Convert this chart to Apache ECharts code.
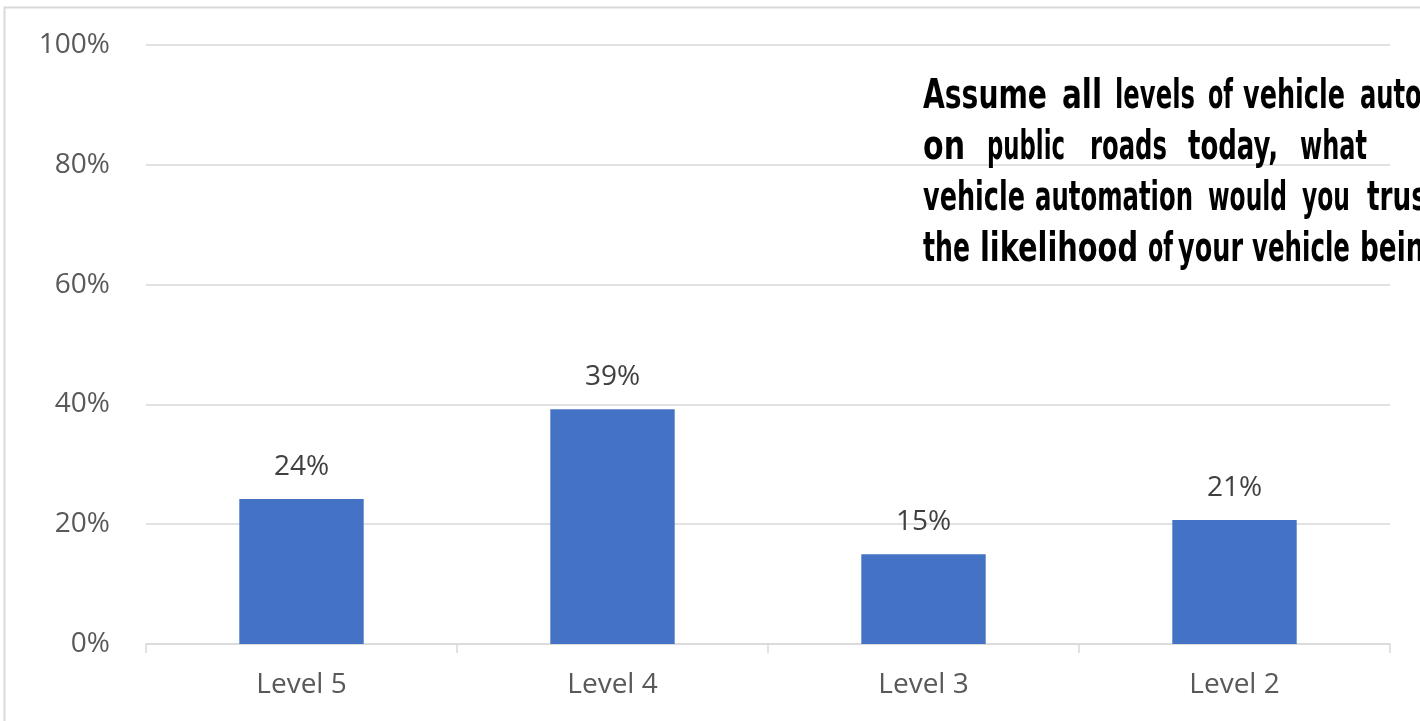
<!DOCTYPE html>
<html>
<head>
<meta charset="utf-8">
<style>
  html, body { margin: 0; padding: 0; background: #fff; }
  #chart { width: 1420px; height: 721px; }
</style>
<script src="https://cdn.jsdelivr.net/npm/echarts@6/dist/echarts.min.js"></script>
</head>
<body>
<div id="chart"></div>
<script>
const categories = ["Level 5", "Level 4", "Level 3", "Level 2"];
const shares = [24.2, 39.2, 15.0, 20.7];
const yTicks = [0, 20, 40, 60, 80, 100];

// question text box (justified, cut off by the right edge in the original)
const noteLines = [
  ["Assume", "all", "levels", "of", "vehicle", "automation"],
  ["on", "public", "roads", "today,", "what", "level"],
  ["vehicle", "automation", "would", "you", "trust"],
  ["the", "likelihood", "of", "your", "vehicle", "being"]
];
// left edge and width of each word in the text box (0 = natural width)
const noteWordX = [
  [923, 1062, 1115, 1208, 1243, 1360],
  [923, 987, 1090, 1188, 1300, 1440],
  [923, 1035, 1208, 1302, 1367],
  [923, 980, 1148, 1178, 1252, 1360]
];
const noteWordW = [
  [124, 40, 80, 25, 102, 157],
  [42, 78, 77, 90, 67, 0],
  [102, 158, 79, 48, 0],
  [47, 158, 25, 65, 98, 0]
];
const noteBaseY = [111, 162, 213, 264];

const chart = echarts.init(document.getElementById("chart"));

// a normal bold face squeezed word by word to the condensed widths of the original
const noteFont = 'bold 41px "DejaVu Sans Condensed", "DejaVu Sans", sans-serif';
const ctx = document.createElement("canvas").getContext("2d");
ctx.font = noteFont;
const avgSqueeze = (157 + 158) / (ctx.measureText("automation").width + ctx.measureText("likelihood").width);

const noteElems = [];
noteLines.forEach((words, li) => {
  words.forEach((w, wi) => {
    const target = noteWordW[li][wi];
    const sx = target ? target / ctx.measureText(w).width : avgSqueeze;
    noteElems.push({
      type: "text",
      x: noteWordX[li][wi],
      y: noteBaseY[li] - 14,
      scaleX: sx,
      z: 10,
      silent: true,
      style: { text: w, font: noteFont, fill: "#000", verticalAlign: "middle" }
    });
  });
});

chart.setOption({
  animation: false,
  grid: { left: 146, right: 30, top: 45, bottom: 77 },
  xAxis: {
    type: "category",
    data: categories,
    axisLine: { lineStyle: { color: "#d9d9d9", width: 1.5 } },
    axisTick: { show: true, length: 9, lineStyle: { color: "#d9d9d9", width: 1.5 } },
    axisLabel: { color: "#595959", fontSize: 28, fontFamily: "Open Sans", margin: 27 }
  },
  yAxis: {
    type: "value",
    min: 0,
    max: 100,
    interval: 20,
    axisLine: { show: false },
    axisTick: { show: false },
    splitLine: { lineStyle: { color: "#d9d9d9", width: 1.5 } },
    axisLabel: {
      color: "#595959",
      fontSize: 28,
      fontFamily: "Open Sans",
      margin: 36,
      formatter: v => (yTicks.includes(v) ? v + "%" : "")
    }
  },
  series: [{
    type: "bar",
    data: shares,
    barWidth: "40%",
    itemStyle: { color: "#4472C4" },
    label: {
      show: true,
      position: "top",
      distance: 18,
      color: "#404040",
      fontSize: 28,
      fontFamily: "Open Sans",
      formatter: p => Math.round(p.value) + "%"
    }
  }],
  graphic: [
    {
      type: "rect",
      shape: { x: 4.5, y: 7.5, width: 1430, height: 730 },
      style: { fill: "none", stroke: "#d9d9d9", lineWidth: 2 },
      silent: true
    }
  ].concat(noteElems)
});
</script>
</body>
</html>
